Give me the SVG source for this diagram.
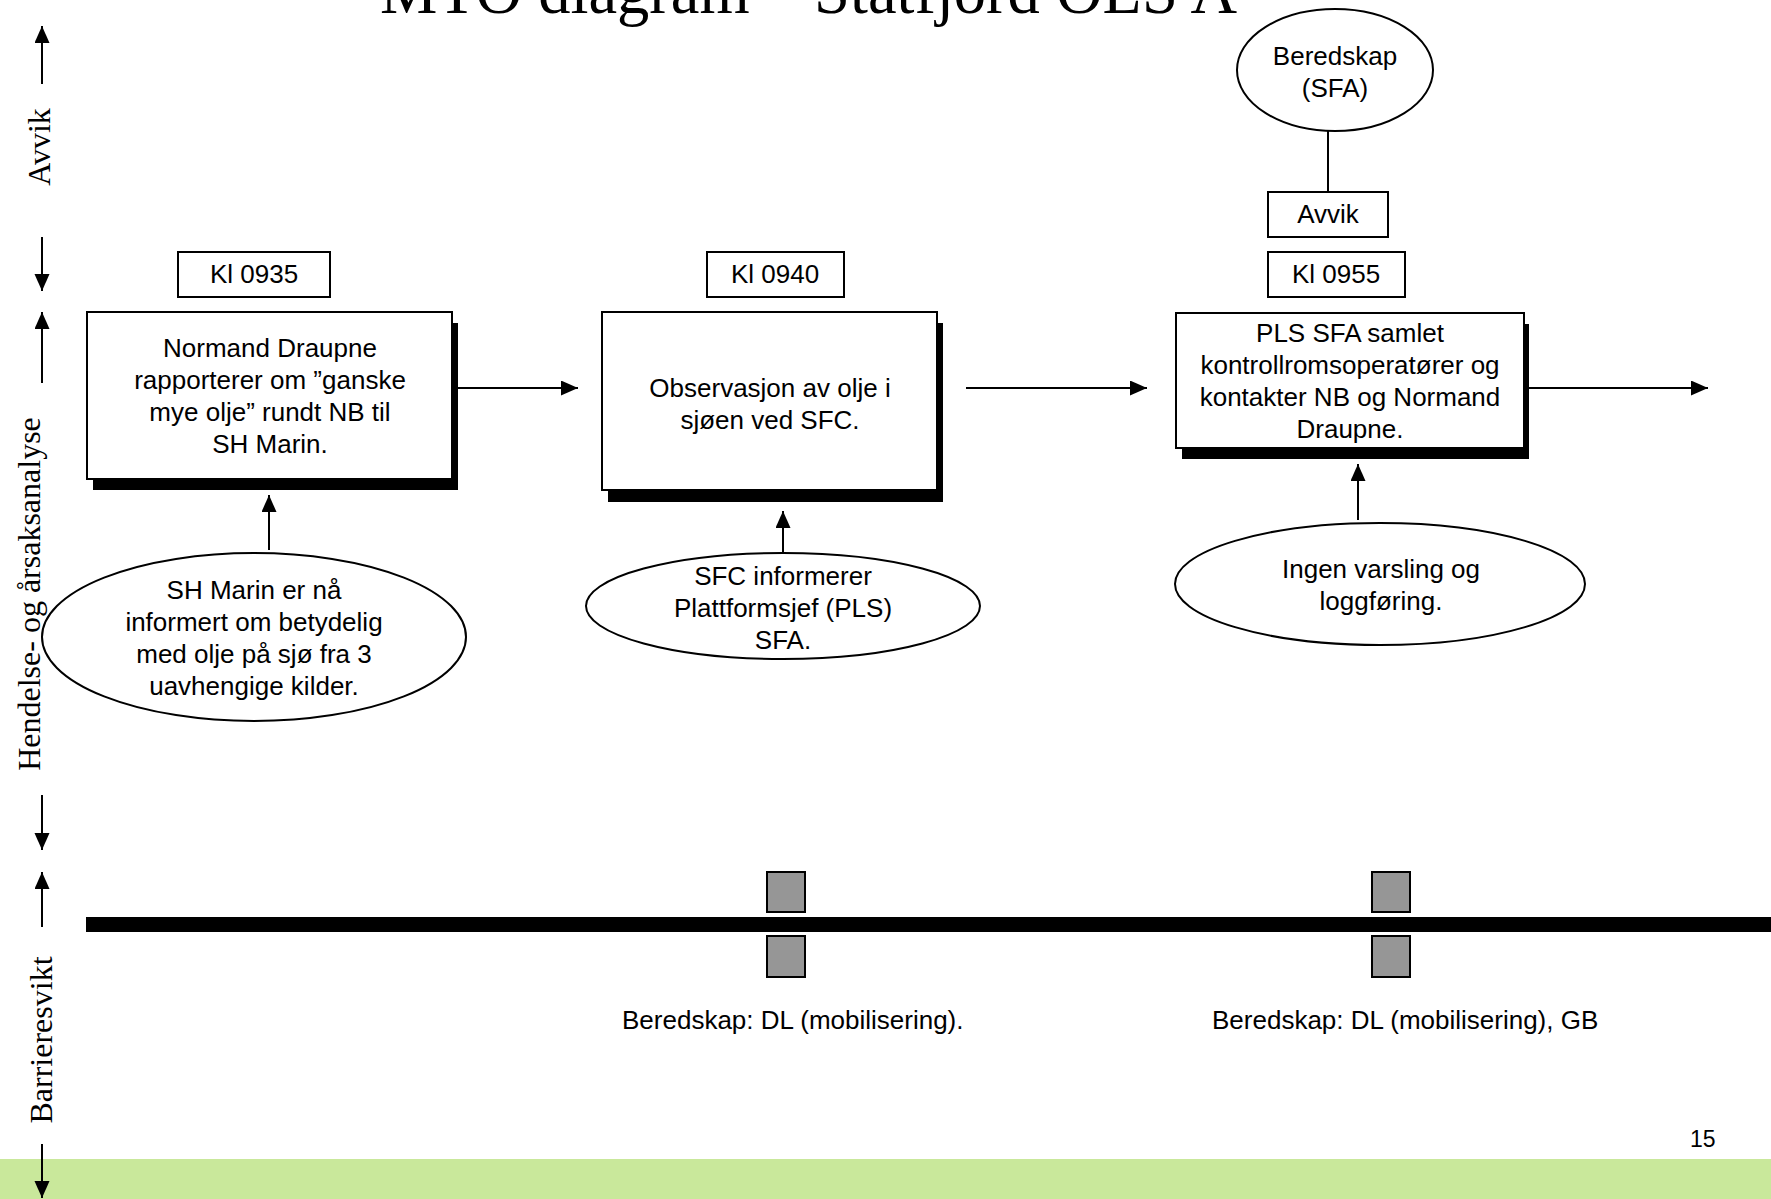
<svg xmlns="http://www.w3.org/2000/svg" width="1771" height="1199" viewBox="0 0 1771 1199">
<defs>
<marker id="ah" markerUnits="userSpaceOnUse" markerWidth="18" markerHeight="16" refX="17" refY="7.5" orient="auto">
<path d="M0,0 L17,7.5 L0,15 z" fill="#000"/>
</marker>
<style>
.t{font-family:"Liberation Sans",Arial,sans-serif;font-size:26px;fill:#000;text-anchor:middle}
.ax{font-family:"Liberation Serif","Times New Roman",serif;font-size:32px;fill:#000;text-anchor:middle}
.box{fill:#fff;stroke:#000;stroke-width:2}
.sh{fill:#000}
.ln{stroke:#000;stroke-width:2;fill:none}
.ar{stroke:#000;stroke-width:2;fill:none;marker-end:url(#ah)}
.bar{fill:#969696;stroke:#000;stroke-width:2}
</style>
</defs>
<rect width="1771" height="1199" fill="#fff"/>
<rect x="0" y="1159" width="1771" height="40" fill="#C9E89B"/>
<text x="380" y="13" font-family="'Liberation Serif','Times New Roman',serif" font-size="64.5" fill="#000">MTO diagram – Statfjord OLS A</text>

<g id="axis">
<line class="ar" x1="42" y1="84" x2="42" y2="26"/>
<line class="ar" x1="42" y1="237" x2="42" y2="291"/>
<line class="ar" x1="42" y1="383" x2="42" y2="312"/>
<line class="ar" x1="42" y1="795" x2="42" y2="850"/>
<line class="ar" x1="42" y1="927" x2="42" y2="872"/>
<line class="ar" x1="42" y1="1144" x2="42" y2="1198"/>
<text class="ax" transform="translate(50,147) rotate(-90)">Avvik</text>
<text class="ax" transform="translate(40,594) rotate(-90)">Hendelse- og årsaksanalyse</text>
<text class="ax" transform="translate(52,1040) rotate(-90)">Barrieresvikt</text>
</g>

<g id="connectors">
<line class="ar" x1="456" y1="388" x2="578" y2="388"/>
<line class="ar" x1="966" y1="388" x2="1147" y2="388"/>
<line class="ar" x1="1524" y1="388" x2="1708" y2="388"/>
<line class="ar" x1="269" y1="550" x2="269" y2="495"/>
<line class="ar" x1="783" y1="553" x2="783" y2="511"/>
<line class="ar" x1="1358" y1="520" x2="1358" y2="464"/>
<line class="ln" x1="1328" y1="131" x2="1328" y2="192"/>
</g>

<g id="kl0935">
<rect class="box" x="178" y="252" width="152" height="45"/>
<text class="t" x="254" y="283">Kl 0935</text>
</g>
<g id="kl0940">
<rect class="box" x="707" y="252" width="137" height="45"/>
<text class="t" x="775" y="283">Kl 0940</text>
</g>
<g id="kl0955">
<rect class="box" x="1268" y="252" width="137" height="45"/>
<text class="t" x="1336" y="283">Kl 0955</text>
</g>
<g id="avvik">
<rect class="box" x="1268" y="192" width="120" height="45"/>
<text class="t" x="1328" y="223">Avvik</text>
</g>
<g id="beredskap">
<ellipse class="box" cx="1335" cy="70" rx="98" ry="61"/>
<text class="t" x="1335" y="65">Beredskap</text>
<text class="t" x="1335" y="97">(SFA)</text>
</g>

<g id="event1">
<rect class="sh" x="93" y="323" width="365" height="167"/>
<rect class="box" x="87" y="312" width="365" height="167"/>
<text class="t" x="270" y="357">Normand Draupne</text>
<text class="t" x="270" y="389">rapporterer om ”ganske</text>
<text class="t" x="270" y="421">mye olje” rundt NB til</text>
<text class="t" x="270" y="453">SH Marin.</text>
</g>
<g id="event2">
<rect class="sh" x="608" y="323" width="335" height="179"/>
<rect class="box" x="602" y="312" width="335" height="178"/>
<text class="t" x="770" y="397">Observasjon av olje i</text>
<text class="t" x="770" y="429">sjøen ved SFC.</text>
</g>
<g id="event3">
<rect class="sh" x="1182" y="324" width="347" height="135"/>
<rect class="box" x="1176" y="313" width="348" height="135"/>
<text class="t" x="1350" y="342">PLS SFA samlet</text>
<text class="t" x="1350" y="374">kontrollromsoperatører og</text>
<text class="t" x="1350" y="406">kontakter NB og Normand</text>
<text class="t" x="1350" y="438">Draupne.</text>
</g>

<g id="cause1">
<ellipse class="box" cx="254" cy="637" rx="212" ry="84"/>
<text class="t" x="254" y="599">SH Marin er nå</text>
<text class="t" x="254" y="631">informert om betydelig</text>
<text class="t" x="254" y="663">med olje på sjø fra 3</text>
<text class="t" x="254" y="695">uavhengige kilder.</text>
</g>
<g id="cause2">
<ellipse class="box" cx="783" cy="606" rx="197" ry="53"/>
<text class="t" x="783" y="585">SFC informerer</text>
<text class="t" x="783" y="617">Plattformsjef (PLS)</text>
<text class="t" x="783" y="649">SFA.</text>
</g>
<g id="cause3">
<ellipse class="box" cx="1380" cy="584" rx="205" ry="61"/>
<text class="t" x="1381" y="578">Ingen varsling og</text>
<text class="t" x="1381" y="610">loggføring.</text>
</g>

<g id="barrier">
<rect x="86" y="917" width="1685" height="15" fill="#000"/>
</g>
<g id="barrier1">
<rect class="bar" x="767" y="872" width="38" height="40"/>
<rect class="bar" x="767" y="936" width="38" height="41"/>
<text class="t" x="622" y="1029" style="text-anchor:start">Beredskap: DL (mobilisering).</text>
</g>
<g id="barrier2">
<rect class="bar" x="1372" y="872" width="38" height="40"/>
<rect class="bar" x="1372" y="936" width="38" height="41"/>
<text class="t" x="1212" y="1029" style="text-anchor:start">Beredskap: DL (mobilisering), GB</text>
</g>
<text x="1690" y="1147" font-family="'Liberation Sans',Arial,sans-serif" font-size="23" fill="#000">15</text>
</svg>
